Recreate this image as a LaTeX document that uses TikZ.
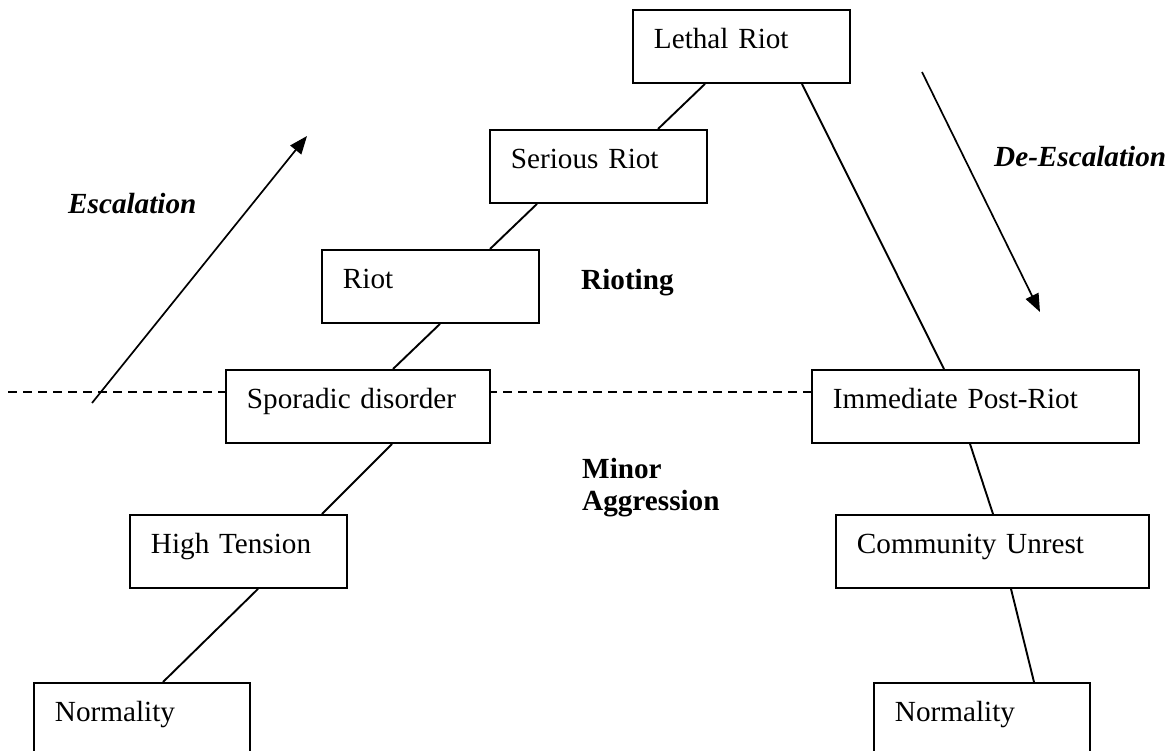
\documentclass[tikz,border=0pt]{standalone}
\usepackage{fontspec}
\setmainfont{Liberation Serif}
\usetikzlibrary{calc,arrows.meta,backgrounds}
\begin{document}
\begin{tikzpicture}[x=1pt,y=-1pt,
  every node/.style={font=\fontsize{29.2}{35}\selectfont},
  stagebox/.style={draw, line width=1.9pt, fill=white, anchor=north west,
    inner xsep=21pt, inner ysep=0pt, text height=39pt, text depth=34pt,
    align=left, text width=#1},
  link/.style={line width=1.9pt},
  trend/.style={line width=1.7pt, -{Triangle[length=18pt,width=14pt]}},
  lbl/.style={anchor=base west, inner sep=0pt, font=\fontsize{29.2}{35}\selectfont\bfseries},
  ilbl/.style={anchor=base west, inner sep=0pt, font=\fontsize{29.2}{35}\selectfont\bfseries\itshape}
]
\useasboundingbox (0,0) rectangle (1173,750);

% stages
\node[stagebox=175pt] (lethal) at (632,9) {Lethal Riot};
\node[stagebox=175pt] (serious) at (489,129) {Serious Riot};
\node[stagebox=175pt] (riot) at (321,249) {Riot};
\node[stagebox=222pt] (spor) at (225,369) {Sporadic disorder};
\node[stagebox=175pt] (high) at (129,514) {High Tension};
\node[stagebox=174pt] (normL) at (33,682) {Normality};
\node[stagebox=285pt] (imm) at (811,369) {Immediate Post-Riot};
\node[stagebox=271pt] (comm) at (835,514) {Community Unrest};
\node[stagebox=174pt] (normR) at (873,682) {Normality};

% dashed threshold line (behind the boxes)
\coordinate (dl) at (8,392);
\begin{scope}[on background layer]
\fill[white] (0,0) rectangle (1173,750);
\draw[line width=1.6pt, dash pattern=on 9pt off 6pt] (dl) -- ($(imm.north west)+(0,23)$);
\end{scope}

% connectors
\draw[link] ($(normL.north west)+(130,0)$) -- ($(high.south west)+(129,0)$);
\draw[link] ($(high.north west)+(193,0)$) -- ($(spor.south west)+(167,0)$);
\draw[link] ($(spor.north west)+(168,0)$) -- ($(riot.south west)+(119,0)$);
\draw[link] ($(riot.north west)+(169,0)$) -- ($(serious.south west)+(48,0)$);
\draw[link] ($(serious.north west)+(169,0)$) -- ($(lethal.south west)+(73,0)$);
\draw[link] ($(lethal.south west)+(170,0)$) -- ($(imm.north west)+(133,0)$);
\draw[link] ($(imm.south west)+(159,0)$) -- ($(comm.north west)+(158,0)$);
\draw[link] ($(comm.south west)+(176,0)$) -- ($(normR.north west)+(161,0)$);

% trend arrows
\coordinate (e1) at (92,403);
\coordinate (e2) at (307,136);
\draw[trend] (e1) -- (e2);
\coordinate (d1) at (922,72);
\coordinate (d2) at (1040,312);
\draw[trend] (d1) -- (d2);

% labels
\node[ilbl] (esc) at (68,213) {Escalation};
\node[ilbl] (desc) at (994,166) {De-Escalation};
\node[lbl] (rioting) at (581,289) {Rioting};
\node[lbl] (minor) at (582,478) {Minor};
\node[lbl] (aggr) at (582,510) {Aggression};
\end{tikzpicture}
\end{document}
